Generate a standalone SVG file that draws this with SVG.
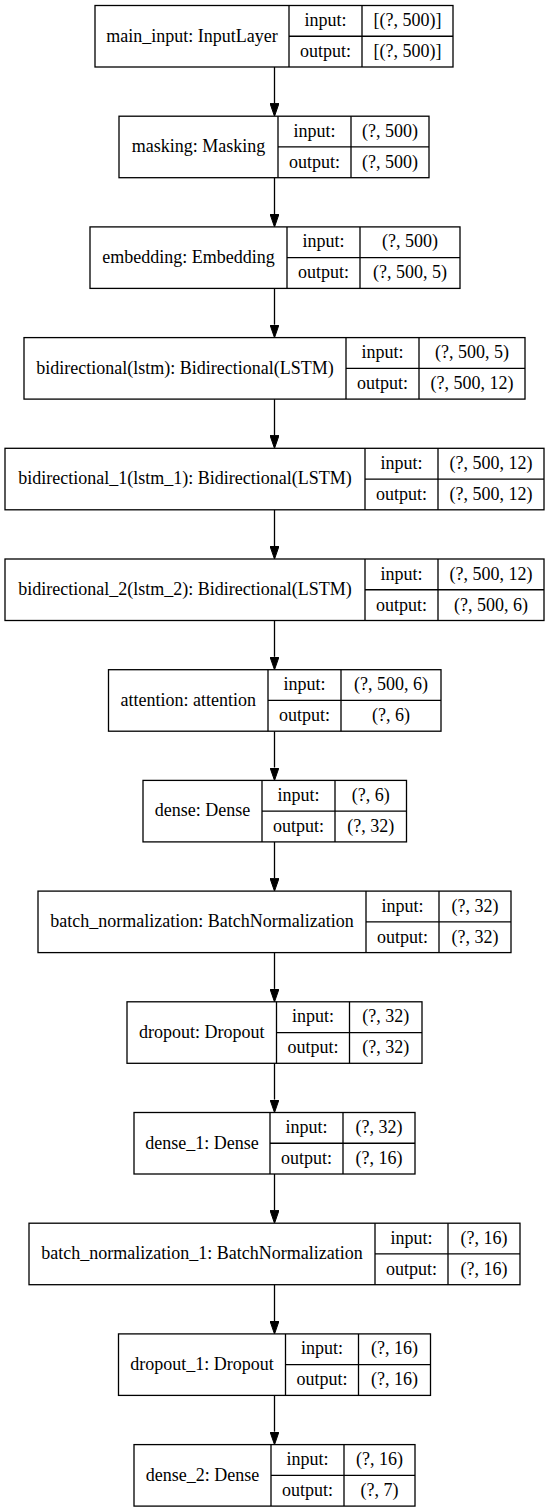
<svg xmlns="http://www.w3.org/2000/svg" width="549" height="1512" viewBox="0 0 549 1512">
<style>
.box{fill:#fff;stroke:#000;stroke-width:1.3}
.div{stroke:#000;stroke-width:1.3;fill:none}
text{font-family:"Liberation Serif","Times New Roman",serif;font-size:18px;fill:#000;text-anchor:middle}
.edge{stroke:#000;stroke-width:1.3;fill:none;marker-end:url(#ah)}
</style>
<defs>
<marker id="ah" viewBox="0 0 13 9" refX="0" refY="4.5" markerWidth="13" markerHeight="9" markerUnits="userSpaceOnUse" orient="auto">
<path d="M0,0 L13,4.5 L0,9 z" fill="#000" stroke="#000" stroke-width="1"/>
</marker>
</defs>
<rect width="549" height="1512" fill="#fff"/>
<g id="connectors">
<line class="edge" x1="274.5" y1="67" x2="274.5" y2="103.3"/>
<line class="edge" x1="274.5" y1="177.7" x2="274.5" y2="214"/>
<line class="edge" x1="274.5" y1="288.4" x2="274.5" y2="324.7"/>
<line class="edge" x1="274.5" y1="399.1" x2="274.5" y2="435.4"/>
<line class="edge" x1="274.5" y1="509.8" x2="274.5" y2="546.1"/>
<line class="edge" x1="274.5" y1="620.5" x2="274.5" y2="656.8"/>
<line class="edge" x1="274.5" y1="731.2" x2="274.5" y2="767.5"/>
<line class="edge" x1="274.5" y1="841.9" x2="274.5" y2="878.2"/>
<line class="edge" x1="274.5" y1="952.6" x2="274.5" y2="988.9"/>
<line class="edge" x1="274.5" y1="1063.3" x2="274.5" y2="1099.6"/>
<line class="edge" x1="274.5" y1="1174" x2="274.5" y2="1210.3"/>
<line class="edge" x1="274.5" y1="1284.7" x2="274.5" y2="1321"/>
<line class="edge" x1="274.5" y1="1395.4" x2="274.5" y2="1431.7"/>
</g>
<g id="main_input" transform="translate(0,5.5)">
<rect class="box" x="95" y="0" width="358" height="61.5"/>
<path class="div" d="M289,0V61.5M362,0V61.5M289,30.75H453"/>
<text x="192" y="36">main_input: InputLayer</text>
<text x="325.5" y="20.5">input:</text><text x="407.5" y="20.5">[(?, 500)]</text>
<text x="325.5" y="51.5">output:</text><text x="407.5" y="51.5">[(?, 500)]</text>
</g>
<g id="masking" transform="translate(0,116.2)">
<rect class="box" x="119" y="0" width="310" height="61.5"/>
<path class="div" d="M278,0V61.5M351,0V61.5M278,30.75H429"/>
<text x="198.5" y="36">masking: Masking</text>
<text x="314.5" y="20.5">input:</text><text x="390" y="20.5">(?, 500)</text>
<text x="314.5" y="51.5">output:</text><text x="390" y="51.5">(?, 500)</text>
</g>
<g id="embedding" transform="translate(0,226.9)">
<rect class="box" x="90" y="0" width="370" height="61.5"/>
<path class="div" d="M287,0V61.5M360,0V61.5M287,30.75H460"/>
<text x="188.5" y="36">embedding: Embedding</text>
<text x="323.5" y="20.5">input:</text><text x="410" y="20.5">(?, 500)</text>
<text x="323.5" y="51.5">output:</text><text x="410" y="51.5">(?, 500, 5)</text>
</g>
<g id="bidirectional" transform="translate(0,337.6)">
<rect class="box" x="24" y="0" width="501" height="61.5"/>
<path class="div" d="M346,0V61.5M419,0V61.5M346,30.75H525"/>
<text x="185" y="36">bidirectional(lstm): Bidirectional(LSTM)</text>
<text x="382.5" y="20.5">input:</text><text x="472" y="20.5">(?, 500, 5)</text>
<text x="382.5" y="51.5">output:</text><text x="472" y="51.5">(?, 500, 12)</text>
</g>
<g id="bidirectional_1" transform="translate(0,448.3)">
<rect class="box" x="5" y="0" width="539" height="61.5"/>
<path class="div" d="M365,0V61.5M438,0V61.5M365,30.75H544"/>
<text x="185" y="36">bidirectional_1(lstm_1): Bidirectional(LSTM)</text>
<text x="401.5" y="20.5">input:</text><text x="491" y="20.5">(?, 500, 12)</text>
<text x="401.5" y="51.5">output:</text><text x="491" y="51.5">(?, 500, 12)</text>
</g>
<g id="bidirectional_2" transform="translate(0,559)">
<rect class="box" x="5" y="0" width="539" height="61.5"/>
<path class="div" d="M365,0V61.5M438,0V61.5M365,30.75H544"/>
<text x="185" y="36">bidirectional_2(lstm_2): Bidirectional(LSTM)</text>
<text x="401.5" y="20.5">input:</text><text x="491" y="20.5">(?, 500, 12)</text>
<text x="401.5" y="51.5">output:</text><text x="491" y="51.5">(?, 500, 6)</text>
</g>
<g id="attention" transform="translate(0,669.7)">
<rect class="box" x="108.5" y="0" width="332.5" height="61.5"/>
<path class="div" d="M268,0V61.5M341,0V61.5M268,30.75H441"/>
<text x="188.25" y="36">attention: attention</text>
<text x="304.5" y="20.5">input:</text><text x="391" y="20.5">(?, 500, 6)</text>
<text x="304.5" y="51.5">output:</text><text x="391" y="51.5">(?, 6)</text>
</g>
<g id="dense" transform="translate(0,780.4)">
<rect class="box" x="143" y="0" width="263.5" height="61.5"/>
<path class="div" d="M262,0V61.5M335,0V61.5M262,30.75H406.5"/>
<text x="202.5" y="36">dense: Dense</text>
<text x="298.5" y="20.5">input:</text><text x="370.75" y="20.5">(?, 6)</text>
<text x="298.5" y="51.5">output:</text><text x="370.75" y="51.5">(?, 32)</text>
</g>
<g id="batch_normalization" transform="translate(0,891.1)">
<rect class="box" x="38" y="0" width="473" height="61.5"/>
<path class="div" d="M366,0V61.5M439,0V61.5M366,30.75H511"/>
<text x="202" y="36">batch_normalization: BatchNormalization</text>
<text x="402.5" y="20.5">input:</text><text x="475" y="20.5">(?, 32)</text>
<text x="402.5" y="51.5">output:</text><text x="475" y="51.5">(?, 32)</text>
</g>
<g id="dropout" transform="translate(0,1001.8)">
<rect class="box" x="127" y="0" width="295" height="61.5"/>
<path class="div" d="M276.5,0V61.5M349.5,0V61.5M276.5,30.75H422"/>
<text x="201.75" y="36">dropout: Dropout</text>
<text x="313" y="20.5">input:</text><text x="385.75" y="20.5">(?, 32)</text>
<text x="313" y="51.5">output:</text><text x="385.75" y="51.5">(?, 32)</text>
</g>
<g id="dense_1" transform="translate(0,1112.5)">
<rect class="box" x="134" y="0" width="281" height="61.5"/>
<path class="div" d="M270,0V61.5M343,0V61.5M270,30.75H415"/>
<text x="202" y="36">dense_1: Dense</text>
<text x="306.5" y="20.5">input:</text><text x="379" y="20.5">(?, 32)</text>
<text x="306.5" y="51.5">output:</text><text x="379" y="51.5">(?, 16)</text>
</g>
<g id="batch_normalization_1" transform="translate(0,1223.2)">
<rect class="box" x="29" y="0" width="491" height="61.5"/>
<path class="div" d="M375,0V61.5M448,0V61.5M375,30.75H520"/>
<text x="202" y="36">batch_normalization_1: BatchNormalization</text>
<text x="411.5" y="20.5">input:</text><text x="484" y="20.5">(?, 16)</text>
<text x="411.5" y="51.5">output:</text><text x="484" y="51.5">(?, 16)</text>
</g>
<g id="dropout_1" transform="translate(0,1333.9)">
<rect class="box" x="118.5" y="0" width="312" height="61.5"/>
<path class="div" d="M285.5,0V61.5M358.5,0V61.5M285.5,30.75H430.5"/>
<text x="202" y="36">dropout_1: Dropout</text>
<text x="322" y="20.5">input:</text><text x="394.5" y="20.5">(?, 16)</text>
<text x="322" y="51.5">output:</text><text x="394.5" y="51.5">(?, 16)</text>
</g>
<g id="dense_2" transform="translate(0,1444.6)">
<rect class="box" x="134" y="0" width="281" height="61.5"/>
<path class="div" d="M271,0V61.5M344,0V61.5M271,30.75H415"/>
<text x="202.5" y="36">dense_2: Dense</text>
<text x="307.5" y="20.5">input:</text><text x="379.5" y="20.5">(?, 16)</text>
<text x="307.5" y="51.5">output:</text><text x="379.5" y="51.5">(?, 7)</text>
</g>
</svg>
